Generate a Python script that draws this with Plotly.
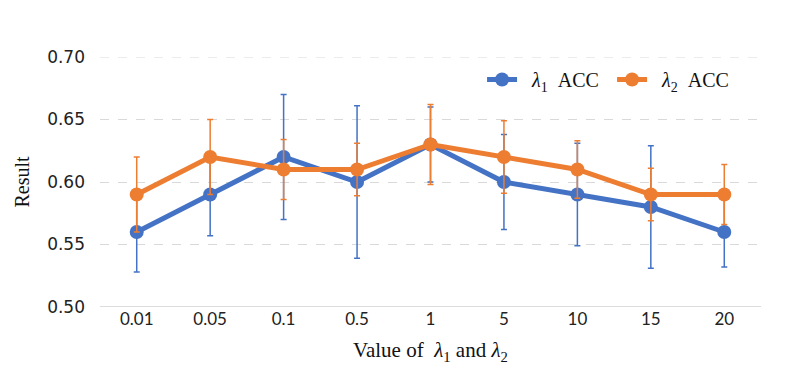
import plotly.graph_objects as go

# data
lambda_values = ["0.01", "0.05", "0.1", "0.5", "1", "5", "10", "15", "20"]
lambda1_acc = [0.56, 0.59, 0.62, 0.60, 0.63, 0.60, 0.59, 0.58, 0.56]
lambda1_err = [0.032, 0.033, 0.050, 0.061, 0.030, 0.038, 0.041, 0.049, 0.028]
lambda2_acc = [0.59, 0.62, 0.61, 0.61, 0.63, 0.62, 0.61, 0.59, 0.59]
lambda2_err = [0.030, 0.030, 0.024, 0.021, 0.032, 0.029, 0.023, 0.021, 0.024]
y_ticks = [0.50, 0.55, 0.60, 0.65, 0.70]

BLUE = "#4472C4"
ORANGE = "#ED7D31"
SERIF = "Liberation Serif"

fig = go.Figure()

for name, vals, errs, color in [
    ("  <i>λ</i><sub>1</sub>  ACC", lambda1_acc, lambda1_err, BLUE),
    ("  <i>λ</i><sub>2</sub>  ACC", lambda2_acc, lambda2_err, ORANGE),
]:
    fig.add_trace(go.Scatter(
        x=lambda_values, y=vals, name=name,
        mode="lines+markers",
        line=dict(color=color, width=5),
        marker=dict(color=color, size=14),
        error_y=dict(type="data", array=errs, visible=True,
                     color=color, thickness=1.5, width=3),
    ))

# page has an 8px body margin, so the figure is shrunk by that much
fig.update_layout(
    width=789, height=376,
    margin=dict(l=92, r=36, t=49, b=77),
    plot_bgcolor="white", paper_bgcolor="white",
    legend=dict(orientation="h", x=0.578, y=0.91, xanchor="left", yanchor="middle",
                font=dict(family=SERIF, size=20, color="#111"),
                bgcolor="rgba(0,0,0,0)", itemwidth=30, tracegroupgap=0,
                entrywidth=85, entrywidthmode="pixels"),
    showlegend=True,
)

fig.update_xaxes(
    type="category", range=[-0.5, 8.5],
    showgrid=False, showline=False, ticks="",
    tickfont=dict(family="Lato", size=17, color="#222"),
    title=dict(text="Value of  <i>λ</i><sub>1</sub> and <i>λ</i><sub>2</sub>",
               font=dict(family=SERIF, size=21, color="#111"), standoff=14),
)

fig.update_yaxes(
    range=[0.5, 0.7], tickvals=y_ticks, tickformat=".2f",
    showgrid=True, gridcolor="#d9d9d9", griddash="dash", gridwidth=1,
    zeroline=False, showline=False, ticks="",
    ticklabelstandoff=14,
    tickfont=dict(family="DejaVu Sans", size=17, color="#222"),
    title=dict(text="Result", font=dict(family=SERIF, size=20, color="#111"), standoff=12),
)

# gridline at the top edge, and the solid baseline at 0.50
fig.add_shape(type="line", xref="paper", yref="y", x0=0, x1=1, y0=0.7, y1=0.7,
              line=dict(color="#d9d9d9", width=1, dash="dash"), layer="below")
fig.add_shape(type="line", xref="paper", yref="y", x0=0, x1=1, y0=0.5, y1=0.5,
              line=dict(color="#d0d0d0", width=1.5), layer="below")

fig.write_html("out.html")
